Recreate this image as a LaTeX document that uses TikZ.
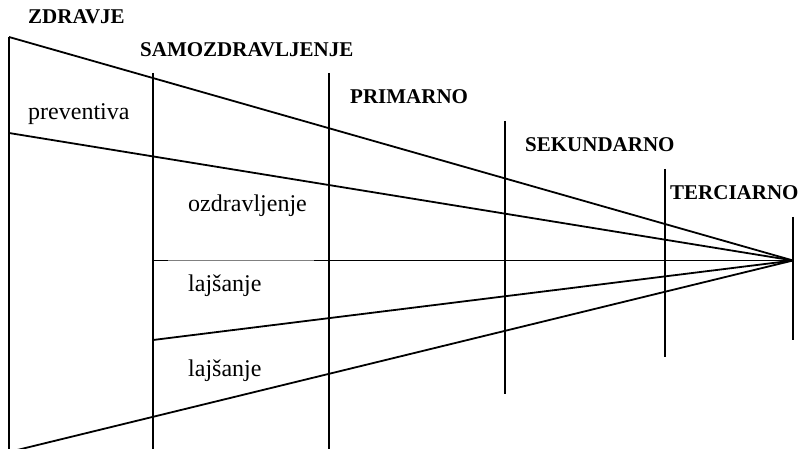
\documentclass[tikz,border=0pt]{standalone}
\usepackage{fontspec}
\setmainfont{Liberation Serif}
\usetikzlibrary{positioning}
\tikzset{
  level/.style={font=\fontsize{21}{25}\selectfont\bfseries,inner sep=0pt,anchor=base west},
  field/.style={font=\fontsize{24}{28}\selectfont,inner sep=0pt,anchor=base west},
  ray/.style={line width=1.8pt},
  bar/.style={line width=1.8pt}
}

\begin{document}
\begin{tikzpicture}[x=1pt,y=-1pt]
    \useasboundingbox (0,0) rectangle (801,449);
    \clip (0,0) rectangle (801,449);

    % corner points of the fan
    \coordinate (apex) at (793,260.5);
    \coordinate (top) at (9,37);
    \coordinate (mid) at (9,133);
    \coordinate (bot) at (9,452);
    \coordinate (cut) at (153,260.5);
    \coordinate (low) at (153,340);
    \coordinate (gapL) at (168,260.5);
    \coordinate (gapR) at (314,260.5);

    % vertical bars
    \draw[bar] (9,37) -- (9,449);
    \draw[bar] (153,73) -- (153,449);
    \draw[bar] (329,73) -- (329,449);
    \draw[bar] (505,121) -- (505,394);
    \draw[bar] (665,169) -- (665,357);
    \draw[bar] (793,217) -- (793,340);

    % rays to the apex
    \draw[ray] (top) -- (apex);
    \draw[ray] (mid) -- (apex);
    \draw[ray] (cut) -- (gapL);
    \draw[gray,line width=.8pt] (gapL) -- (gapR);
    \draw[ray] (gapR) -- (apex);
    \draw[ray] (low) -- (apex);
    \draw[ray] (bot) -- (apex);

    % level headings
    \node[level] (zdravje) at (28,24) {ZDRAVJE};
    \node[level] (samo) at (140,57) {SAMOZDRAVLJENJE};
    \node[level] (prim) at (350,104) {PRIMARNO};
    \node[level] (sek) at (525,152) {SEKUNDARNO};
    \node[level] (terc) at (670,200) {TERCIARNO};

    % fields
    \node[field] (prev) at (28,120) {preventiva};
    \node[field] (ozdr) at (188,212) {ozdravljenje};
    \node[field] (lajsA) at (188,292) {lajšanje};
    \node[field] (lajsB) at (188,376) {lajšanje};
\end{tikzpicture}
\end{document}
